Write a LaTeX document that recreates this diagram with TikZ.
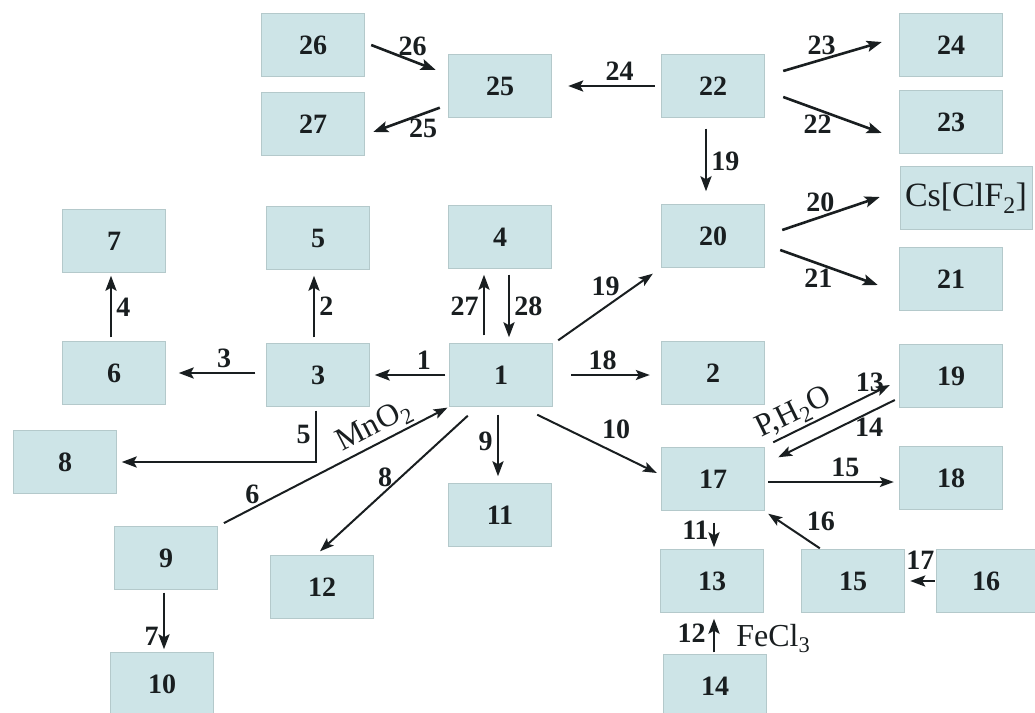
\documentclass[tikz,border=0pt]{standalone}
\usepackage{fontspec}
\setmainfont{Liberation Serif}
\usepackage{xcolor}
\definecolor{boxfill}{RGB}{205,228,231}
\definecolor{inkdark}{RGB}{25,30,32}
\usetikzlibrary{arrows.meta, calc, positioning}

\begin{document}
\begin{tikzpicture}[
    x=1pt, y=-1pt,
    font=\fontsize{28}{30}\selectfont\bfseries,
    text=inkdark,
    inner sep=4pt,
    box/.style={rectangle, fill=boxfill, draw=boxfill!88!black, line width=0.4pt, minimum width=103pt, minimum height=63pt, inner sep=0pt},
    rx/.style={-{Stealth[length=15pt,width=11pt,inset=3pt]}, line width=2.6pt, inkdark},
    tx/.style={-{Stealth[length=14pt,width=10pt,inset=3pt]}, line width=2pt, inkdark},
    chem/.style={font=\fontsize{32}{34}\selectfont\mdseries},
  ]
  \useasboundingbox (0,0) rectangle (1035,712);

  % substances
  \node[box] (s1) at (501,375) {1};
  \node[box] (s2) at (713,373) {2};
  \node[box] (s3) at (318,375) {3};
  \node[box] (s4) at (500,237) {4};
  \node[box] (s5) at (318,238) {5};
  \node[box] (s6) at (114,373) {6};
  \node[box] (s7) at (114,241) {7};
  \node[box] (s8) at (65,462) {8};
  \node[box] (s9) at (166,558) {9};
  \node[box] (s10) at (162,684) {10};
  \node[box] (s11) at (500,515) {11};
  \node[box] (s12) at (322,587) {12};
  \node[box] (s13) at (712,581) {13};
  \node[box] (s14) at (715,686) {14};
  \node[box] (s15) at (853,581) {15};
  \node[box, minimum width=100pt] (s16) at (986,581) {16};
  \node[box] (s17) at (713,479) {17};
  \node[box] (s18) at (951,478) {18};
  \node[box] (s19) at (951,376) {19};
  \node[box] (s20) at (713,236) {20};
  \node[box] (s21) at (951,279) {21};
  \node[box] (s22) at (713,86) {22};
  \node[box] (s23) at (951,122) {23};
  \node[box] (s24) at (951,45) {24};
  \node[box] (s25) at (500,86) {25};
  \node[box] (s26) at (313,45) {26};
  \node[box] (s27) at (313,124) {27};
  \node[box, minimum width=132pt, chem, font=\fontsize{34}{36}\selectfont\mdseries] (scs) at (966,198) {Cs[ClF\textsubscript{2}]};

  % reactions
  \draw[rx, shorten <=4pt, shorten >=5pt] (s1.west) -- node[above, pos=0.32] {1} (s3.east);
  \draw[rx, shorten <=6pt, shorten >=6pt] ($(s3.north)+(-4,0)$) -- node[right] {2} ($(s5.south)+(-4,0)$);
  \draw[rx, shorten <=11pt, shorten >=13pt] ($(s3.west)+(0,-2)$) -- node[above, pos=0.42] {3} (s6.east);
  \draw[rx, shorten <=4pt, shorten >=3pt] ($(s6.north)+(-3,0)$) -- node[right] {4} ($(s7.south)+(-3,0)$);
  \draw[rx, shorten <=4pt, shorten >=5pt] ($(s3.south)+(-2,0)$) |- node[left, pos=0.25] {5} (s8.east);
  \draw[tx, shorten <=7pt, shorten >=2pt] (s9.north east) -- node[above, pos=0.15] {6}
    node[above, sloped, pos=0.71, chem, inner sep=2pt] {MnO\textsubscript{2}} (s1.south west);
  \draw[rx, shorten <=3pt, shorten >=3pt] ($(s9.south)+(-2,0)$) -- node[left, pos=0.75] {7} ($(s10.north)+(2,0)$);
  \draw[tx] ($(s1.south west)+(18.5,9)$) -- node[above, pos=0.56] {8} ($(s12.north)+(-2,-4)$);
  \draw[rx, shorten <=8pt, shorten >=7pt] ($(s1.south)+(-3,0)$) -- node[left, pos=0.45] {9} ($(s11.north)+(-2,0)$);
  \draw[tx] ($(s1.south east)+(-15.5,8)$) -- node[above right, pos=0.5] {10} ($(s17.west)+(-4.5,-6)$);
  \draw[rx, shorten <=12pt, shorten >=2pt] ($(s17.south)+(1,0)$) -- node[left] {11} ($(s13.north)+(2,0)$);
  \draw[rx, shorten <=2pt, shorten >=6pt] ($(s14.north)+(-1,0)$) -- node[left, xshift=-3pt] {12}
    node[right, chem, xshift=17pt, yshift=-5pt] {FeCl\textsubscript{3}} ($(s13.south)+(2,0)$);
  \draw[tx] ($(s17.north east)+(8.5,-5)$) -- node[above, sloped, pos=0.24, chem, inner sep=2pt] {P,H\textsubscript{2}O}
    node[above, pos=0.83, inner sep=2pt] {13} ($(s19.west)+(-9.5,9)$);
  \draw[tx] ($(s19.west)+(-4.5,24)$) -- node[below, pos=0.22] {14} ($(s17.north east)+(13.5,10)$);
  \draw[tx, shorten <=3.5pt, shorten >=5.5pt] ($(s17.east)+(0,3)$) -- node[above, pos=0.6] {15} ($(s18.west)+(0,4)$);
  \draw[tx] ($(s15.north west)+(18.5,-1)$) -- node[above right, pos=0.35] {16} ($(s17.south east)+(3.5,3)$);
  \draw[rx, shorten <=1pt, shorten >=5.5pt] (s16.west) -- node[above, yshift=6pt] {17} (s15.east);
  \draw[tx, shorten <=18.5pt, shorten >=11.5pt] (s1.east) -- node[above, pos=0.46] {18} ($(s2.west)+(0,2)$);
  \draw[tx] ($(s1.north east)+(5.5,-3)$) -- node[above, pos=0.5, yshift=6pt] {19} ($(s20.south west)+(-8.5,6)$);
  \draw[rx, shorten <=11pt, shorten >=13pt] ($(s22.south)+(-7,0)$) -- node[right] {19} ($(s20.north)+(-7,0)$);
  \draw[rx] ($(s20.east)+(17.5,-6)$) -- node[above, pos=0.39] {20} ($(scs.west)+(-20,-1)$);
  \draw[rx] ($(s20.east)+(15.5,14)$) -- node[below, pos=0.39] {21} ($(s21.west)+(-21.5,6)$);
  \draw[rx] ($(s22.east)+(18.5,11)$) -- node[below, pos=0.35] {22} ($(s23.west)+(-17.5,11)$);
  \draw[rx] ($(s22.east)+(18.5,-15)$) -- node[above, pos=0.39] {23} ($(s24.west)+(-17.5,-3)$);
  \draw[rx, shorten <=6.5pt, shorten >=16.5pt] (s22.west) -- node[above, pos=0.38] {24} (s25.east);
  \draw[rx] ($(s25.south west)+(-8.5,-10)$) -- node[below, pos=0.25] {25} ($(s27.east)+(8.5,8)$);
  \draw[rx] ($(s26.east)+(6.5,0)$) -- node[above, pos=0.64] {26} ($(s25.west)+(-12.5,-16)$);
  \draw[rx, shorten <=8pt, shorten >=6pt] ($(s1.north)+(-17,0)$) -- node[left] {27} ($(s4.south)+(-16,0)$);
  \draw[rx, shorten <=6pt, shorten >=6pt] ($(s4.south)+(9,0)$) -- node[right] {28} ($(s1.north)+(8,0)$);
\end{tikzpicture}
\end{document}
